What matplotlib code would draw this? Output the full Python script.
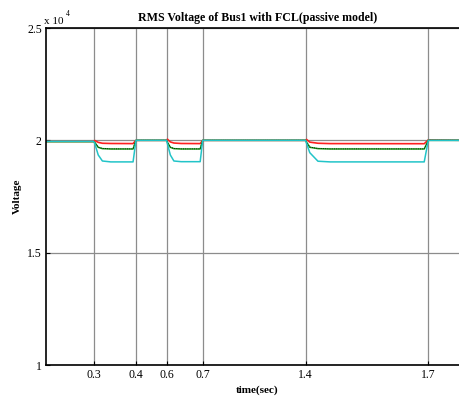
import numpy as np
import matplotlib
matplotlib.use('Agg')
import matplotlib.pyplot as plt

# time points (sec) shared by every trace
t = [0.19, 0.299, 0.302, 0.31, 0.32, 0.34, 0.393, 0.40,
     0.599, 0.602, 0.61, 0.62, 0.64, 0.693, 0.70,
     1.399, 1.402, 1.41, 1.43, 1.46, 1.69, 1.70, 1.80]

# rms voltage (V)
v_red = [19950, 19950, 19990, 19910, 19870, 19860, 19855, 20000,
         20000, 20050, 19930, 19880, 19860, 19855, 20000,
         20000, 20040, 19920, 19870, 19855, 19850, 20020, 20000]
v_black = [19945, 19945, 19900, 19700, 19640, 19620, 19620, 20000,
           20000, 19920, 19700, 19640, 19620, 19620, 20000,
           20000, 19930, 19700, 19640, 19620, 19620, 20000, 20000]
v_green = [19940, 19940, 19900, 19690, 19630, 19615, 19615, 20000,
           20000, 19910, 19690, 19630, 19615, 19615, 20000,
           20000, 19920, 19690, 19630, 19615, 19615, 20000, 20000]
v_cyan = [19955, 19955, 19850, 19350, 19080, 19040, 19040, 20000,
          20000, 19850, 19350, 19080, 19050, 19050, 20000,
          20000, 19870, 19450, 19070, 19040, 19040, 20000, 20000]

xticks = [0.3, 0.4, 0.6, 0.7, 1.4, 1.7]
xtick_labels = ['0.3', '0.4', '0.6', '0.7', '1.4', '1.7']
yticks = [10000, 15000, 20000, 25000]
ytick_labels = ['1', '1.5', '2', '2.5']

# the original axis spacing is not linear in time
knots_t = [0.19, 0.3, 0.4, 0.6, 0.7, 1.4, 1.7, 1.8]
knots_p = [46, 94, 136, 166.7, 202.7, 305.7, 428.3, 469]

def fwd(x):
    return np.interp(x, knots_t, knots_p)

def inv(p):
    return np.interp(p, knots_p, knots_t)

plt.rcParams['font.family'] = ['Liberation Serif', 'DejaVu Serif']

fig = plt.figure(figsize=(4.6, 3.96), dpi=100)
ax = fig.add_axes([46/460, 31/396, (469-46)/460, 337/396])
ax.set_xscale('function', functions=(fwd, inv))

ax.plot(t, v_red, color='#ff2020', lw=1.2)
ax.plot(t, v_green, color='#1a9a1a', lw=1.1)
ax.plot(t, v_black, color='k', lw=0.6, ls=':')
ax.plot(t, v_cyan, color='#22c4c8', lw=1.1)

ax.set_xlim(0.19, 1.8)
ax.set_ylim(10000, 25000)
ax.set_xticks(xticks)
ax.set_xticklabels(xtick_labels)
ax.set_yticks(yticks)
ax.set_yticklabels(ytick_labels)
ax.minorticks_off()
ax.grid(True, color='#8c8c8c', lw=0.9)
ax.tick_params(direction='in', length=3, labelsize=8.5, pad=3)
for s in ax.spines.values():
    s.set_linewidth(1.2)

ax.set_title('RMS Voltage of Bus1 with FCL(passive model)', fontsize=8.6,
             fontweight='bold', pad=5)
ax.set_xlabel('time(sec)', fontsize=8, fontweight='bold', labelpad=3)
ax.set_ylabel('Voltage', fontsize=8, fontweight='bold', labelpad=4)
fig.text(44/460, 1 - 22/396, 'x 10', fontsize=8, va='center', ha='left')
fig.text(66/460, 1 - 14/396, '4', fontsize=5.5, va='center', ha='left')

fig.savefig('out.png', dpi=100)
